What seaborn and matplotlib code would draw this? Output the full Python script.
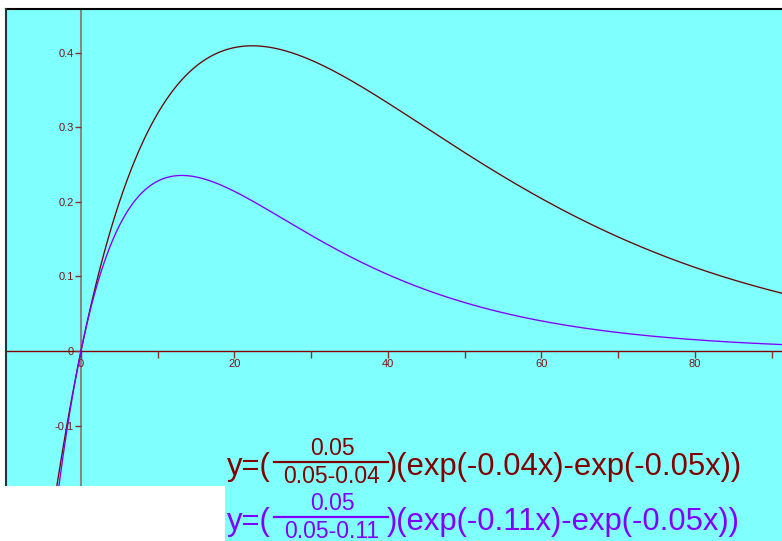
import numpy as np
import pandas as pd
import matplotlib
matplotlib.use("Agg")
import matplotlib.pyplot as plt
import seaborn as sns
from matplotlib.patches import Rectangle
from matplotlib.lines import Line2D
from matplotlib.ticker import MultipleLocator, FuncFormatter

# ---- data (coefficients shown in the chart's formulas) ----
series_names = ["ka=0.04", "ka=0.11"]
k_elim = 0.05
k_abs = [0.04, 0.11]
numerator = [0.05, 0.05]
series_colors = ["#660808", "#8000ff"]
x_major_ticks = [0, 20, 40, 60, 80]
y_ticks = [-0.1, 0, 0.1, 0.2, 0.3, 0.4]

x_min, x_max = -9.77, 91.35
y_min, y_max = -0.255, 0.459

xs = np.linspace(x_min, x_max, 800)
frames = []
for name, ka, num in zip(series_names, k_abs, numerator):
    ys = (num / (k_elim - ka)) * (np.exp(-ka * xs) - np.exp(-k_elim * xs))
    frames.append(pd.DataFrame({"x": xs, "y": ys, "series": name}))
df = pd.concat(frames, ignore_index=True)

W, H = 782, 541
fig = plt.figure(figsize=(W / 100, H / 100), dpi=100)
fig.patch.set_facecolor("white")

left_px, top_px = 6, 9
ax = fig.add_axes([left_px / W, 0, 1 - left_px / W, 1 - top_px / H])
ax.set_facecolor("#80ffff")

sns.lineplot(data=df, x="x", y="y", hue="series", palette=series_colors,
             hue_order=series_names, ax=ax, linewidth=0.95, legend=False,
             estimator=None, sort=False)

ax.set_xlim(x_min, x_max)
ax.set_ylim(y_min, y_max)
ax.set_xlabel("")
ax.set_ylabel("")

# axes through the origin
for s in ["top", "right"]:
    ax.spines[s].set_visible(False)
ax.spines["bottom"].set_position(("data", 0))
ax.spines["left"].set_position(("data", 0))
ax.spines["bottom"].set_color("#800000")
ax.spines["bottom"].set_linewidth(1.0)
ax.spines["left"].set_color("#888888")
ax.spines["left"].set_linewidth(1.5)
ax.spines["bottom"].set_zorder(1)
ax.spines["left"].set_zorder(1)

ax.set_xticks(x_major_ticks)
ax.xaxis.set_minor_locator(MultipleLocator(10))
ax.set_yticks(y_ticks)
ax.xaxis.set_major_formatter(FuncFormatter(lambda v, p: f"{v:g}"))
ax.yaxis.set_major_formatter(FuncFormatter(lambda v, p: f"{v:g}"))
tick_col = "#8a3030"
ax.tick_params(axis="x", which="both", direction="out", length=5, width=1.0,
               color=tick_col, labelsize=8, labelcolor="#7a1515", pad=1)
ax.tick_params(axis="y", which="both", direction="out", length=4, width=1.0,
               color=tick_col, labelsize=8, labelcolor="#7a1515", pad=1)
for lab in ax.get_xticklabels() + ax.get_yticklabels():
    lab.set_fontfamily("Liberation Sans")

# border lines (top and left edges of plotting area)
fig.add_artist(Line2D([left_px / W, 1], [1 - top_px / H, 1 - top_px / H],
                      color="black", linewidth=1.5, transform=fig.transFigure))
fig.add_artist(Line2D([left_px / W, left_px / W], [1 - top_px / H, 1 - 493 / H],
                      color="#1a3a3a", linewidth=1.5, transform=fig.transFigure))

# white block in lower left
fig.add_artist(Rectangle((0, 0), 225 / W, (H - 486) / H, transform=fig.transFigure,
                         facecolor="white", edgecolor="none", zorder=5))

# formulas
def px(x, y):
    return x / W, 1 - y / H

main_fs = 22.3
frac_fs = 16.5
fam = "Liberation Sans"

def formula(y_base, color, den, ka_txt):
    fig.text(*px(227, y_base), "y=(", fontsize=main_fs, color=color,
             family=fam, va="baseline", ha="left", zorder=6)
    fig.text(*px(332, y_base - 20), "0.05", fontsize=frac_fs, color=color,
             family=fam, va="baseline", ha="center", zorder=6)
    fig.text(*px(332, y_base + 8), den, fontsize=frac_fs, color=color,
             family=fam, va="baseline", ha="center", zorder=6)
    fig.add_artist(Line2D([274 / W, 388 / W], [1 - (y_base - 13) / H] * 2,
                          color=color, linewidth=1.6, transform=fig.transFigure,
                          zorder=6))
    fig.text(*px(387, y_base), f")(exp(-{ka_txt}x)-exp(-0.05x))", fontsize=main_fs,
             color=color, family=fam, va="baseline", ha="left", zorder=6)

formula(475, "#800000", "0.05-0.04", "0.04")
formula(530, "#8000ff", "0.05-0.11", "0.11")

fig.savefig("out.png", dpi=100, facecolor=fig.get_facecolor())
